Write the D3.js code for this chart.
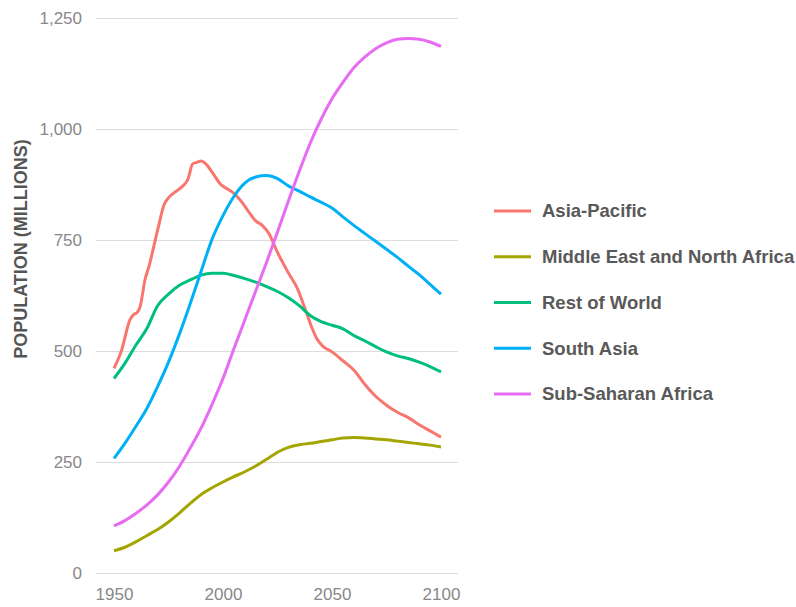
<!DOCTYPE html>
<html>
<head>
<meta charset="utf-8">
<script src="https://cdn.jsdelivr.net/npm/d3@7"></script>
<style>
  html, body { margin: 0; padding: 0; background: #fff; }
  svg { display: block; font-family: "Liberation Sans", Arial, Helvetica, sans-serif; }
</style>
</head>
<body>
<svg id="chart" width="796" height="607"></svg>
<script>
// Regional population, millions
const regions = ["Asia-Pacific", "Middle East and North Africa", "Rest of World", "South Asia", "Sub-Saharan Africa"];
const colors = ["#F8766D", "#A3A500", "#00BF7D", "#00B0F6", "#E76BF3"];

const years = [1950, 1955, 1960, 1965, 1970, 1975, 1980, 1985, 1990, 1995, 2000,
  2005, 2010, 2015, 2020, 2025, 2030, 2035, 2040, 2045, 2050,
  2055, 2060, 2065, 2070, 2075, 2080, 2085, 2090, 2095, 2100];

// Asia-Pacific has more turning points, so it carries its own year list
const asiaPacificYears = [1950, 1953.5, 1957.3, 1959, 1960.5, 1962, 1964.2, 1966, 1970, 1973,
  1975, 1978, 1981, 1984, 1986, 1988, 1990, 1992, 1995, 1999, 2002, 2005, 2009, 2012, 2015,
  2018, 2021, 2025, 2030, 2034, 2038, 2041, 2043, 2046, 2050, 2055, 2060, 2065, 2070, 2075,
  2080, 2085, 2090, 2095, 2100];
const asiaPacific = [461, 502, 570, 582, 586, 600, 660, 690, 772, 830,
  845, 858, 869, 888, 921, 925, 928, 922, 903, 875, 865, 855, 833, 812, 793,
  783, 765, 722, 676, 642, 590, 550, 528, 510, 498, 478, 457, 425, 398, 378,
  362, 350, 334, 320, 306];

const middleEastNorthAfrica = [50, 58, 70, 84, 98, 115, 135, 157, 177, 192, 205,
  217, 228, 241, 256, 272, 283, 289, 292, 296, 300,
  304, 305, 304, 302, 300, 297, 294, 291, 288, 284];

const restOfWorld = [438, 472, 513, 550, 602, 628, 648, 660, 671, 675, 675,
  670, 663, 655, 645, 634, 620, 602, 580, 566, 558,
  550, 535, 523, 510, 498, 489, 483, 475, 465, 453];

const southAsia = [258, 292, 330, 370, 420, 475, 538, 607, 680, 752, 805,
  848, 878, 892, 895, 888, 872, 860, 847, 835, 822,
  802, 783, 765, 747, 729, 711, 691, 672, 650, 628];

const subSaharanAfrica = [106, 118, 134, 153, 176, 205, 240, 282, 327, 380, 438,
  505, 570, 635, 700, 768, 838, 905, 968, 1022, 1068,
  1105, 1138, 1162, 1181, 1194, 1202, 1204, 1202, 1196, 1186];

const yTicks = [0, 250, 500, 750, 1000, 1250];
const xTicks = [1950, 2000, 2050, 2100];

const series = [
  { name: regions[0], color: colors[0], xs: asiaPacificYears, ys: asiaPacific },
  { name: regions[1], color: colors[1], xs: years, ys: middleEastNorthAfrica },
  { name: regions[2], color: colors[2], xs: years, ys: restOfWorld },
  { name: regions[3], color: colors[3], xs: years, ys: southAsia },
  { name: regions[4], color: colors[4], xs: years, ys: subSaharanAfrica }
];

const svg = d3.select("#chart");
const plotLeft = 96, plotRight = 458;

const x = d3.scaleLinear().domain([1950, 2100]).range([114, 441]);
const y = d3.scaleLinear().domain([0, 1250]).range([573, 18]);

// Horizontal grid lines with value labels
const yAxis = d3.axisLeft(y).tickValues(yTicks).tickFormat(d3.format(","))
  .tickSize(-(plotRight - plotLeft)).tickPadding(14);
const gy = svg.append("g").attr("transform", `translate(${plotLeft},0)`).call(yAxis);
gy.select(".domain").remove();
gy.selectAll(".tick line").attr("stroke", "#dcdcdc").attr("stroke-width", 1);
gy.selectAll(".tick text").attr("fill", "#888").style("font-size", "17px")
  .attr("dy", "0.35em");

// Year labels
const xAxis = d3.axisBottom(x).tickValues(xTicks).tickFormat(d3.format("d")).tickSize(0).tickPadding(15);
const gx = svg.append("g").attr("transform", "translate(0,573)").call(xAxis);
gx.select(".domain").remove();
gx.selectAll(".tick text").attr("fill", "#888").style("font-size", "17px");

// Axis title
svg.append("text")
  .attr("transform", "translate(27,249) rotate(-90)")
  .attr("text-anchor", "middle")
  .attr("fill", "#555")
  .style("font-size", "18px")
  .style("font-weight", "bold")
  .text("POPULATION (MILLIONS)");

// Lines
const line = d3.line().curve(d3.curveMonotoneX)
  .x(d => x(d[0])).y(d => y(d[1]));

svg.append("g").selectAll("path")
  .data(series)
  .join("path")
  .attr("fill", "none")
  .attr("stroke", d => d.color)
  .attr("stroke-width", 3)
  .attr("stroke-linejoin", "round")
  .attr("d", d => line(d.xs.map((yr, i) => [yr, d.ys[i]])));

// Legend
const legend = svg.append("g");
const rowY = d3.scalePoint().domain(regions).range([211, 394]);
const rows = legend.selectAll("g").data(series).join("g")
  .attr("transform", d => `translate(0,${rowY(d.name)})`);
rows.append("line")
  .attr("x1", 494).attr("x2", 531)
  .attr("stroke", d => d.color).attr("stroke-width", 3);
rows.append("text")
  .attr("x", 542).attr("dy", "0.35em")
  .attr("fill", "#595959")
  .style("font-size", "18.5px")
  .style("font-weight", "bold")
  .text(d => d.name);
</script>
</body>
</html>
